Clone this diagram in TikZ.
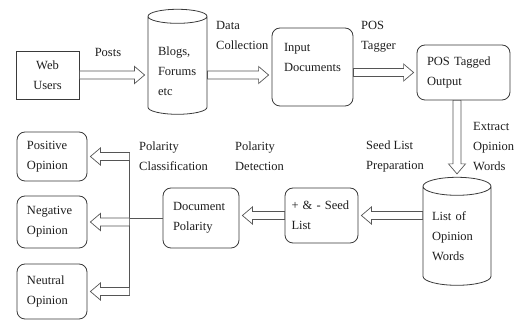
\documentclass[tikz,border=0pt]{standalone}
\usepackage{fontspec}
\setmainfont{Liberation Serif}
\usetikzlibrary{shapes.geometric, positioning, calc}
\definecolor{ink}{HTML}{1E1E1E}
\definecolor{edge}{HTML}{3A3A3A}
\definecolor{arrowline}{HTML}{555555}

% hollow block arrow: from, to, direction x, direction y
\newcommand{\flowarrow}[4]{%
  \draw[blockarr] ($(#1)+({-4*(#4)},{4*(#3)})$)
    -- ($(#2)+({-13*(#3)-4*(#4)},{-13*(#4)+4*(#3)})$)
    -- ($(#2)+({-13*(#3)-8.5*(#4)},{-13*(#4)+8.5*(#3)})$)
    -- ($(#2)+({-3*(#3)},{-3*(#4)})$)
    -- ($(#2)+({-13*(#3)+8.5*(#4)},{-13*(#4)-8.5*(#3)})$)
    -- ($(#2)+({-13*(#3)+4*(#4)},{-13*(#4)-4*(#3)})$)
    -- ($(#1)+({4*(#4)},{-4*(#3)})$) -- cycle;}

\begin{document}
\begin{tikzpicture}[x=1pt, y=-1pt,
  txt/.style={font=\fontsize{12.5}{20}\selectfont, text=ink, align=left, inner sep=0pt},
  box/.style={txt, draw=edge, line width=0.8pt, rounded corners=8pt, fill=white},
  store/.style={txt, draw=edge, line width=0.8pt, cylinder, shape border rotate=90, aspect=0.36},
  blockarr/.style={draw=arrowline, line width=0.7pt, fill=white, line join=miter},
  wire/.style={draw=arrowline, line width=0.7pt}
]
\useasboundingbox (0,0) rectangle (523,320);

% top row
\node[box, rounded corners=0pt, align=center, text width=43pt, minimum width=63pt, minimum height=48pt] (web) at (47.5,75) {Web\\Users};
\node[store, text width=39pt, minimum width=59pt, minimum height=105pt] (blogs) at (177.5,65.5) {\mbox{}\\Blogs,\\Forums\\etc};
\node[box, text width=57pt, minimum width=81pt, minimum height=78pt] (input) at (312.5,67) {Input\\Documents\\\mbox{}};
\node[box, text width=73pt, minimum width=93pt, minimum height=55pt] (pos) at (463.5,72.5) {POS Tagged\\Output};

% middle row
\node[store, text width=50pt, minimum width=68pt, minimum height=108pt] (list) at (457,236) {List of\\Opinion\\Words};
\node[box, text width=60pt, minimum width=73pt, minimum height=55pt] (seed) at (321.5,215.5) {+ \& - Seed\\List};
\node[box, text width=56pt, minimum width=76pt, minimum height=60pt] (doc) at (201,218) {Document\\Polarity};

% results
\node[box, text width=50pt, minimum width=70pt, minimum height=49pt] (posop) at (52,156.5) {Positive\\Opinion};
\node[box, text width=50pt, minimum width=70pt, minimum height=52pt] (negop) at (52,222) {Negative\\Opinion};
\node[box, text width=50pt, minimum width=70pt, minimum height=55pt] (neuop) at (52,291.5) {Neutral\\Opinion};

% arrow labels
\node[txt] (posts) at (108,52) {Posts};
\node[txt, anchor=west] (collect) at (216,35) {Data\\Collection};
\node[txt, anchor=west] (tagger) at (361,37) {POS\\Tagger};
\node[txt, anchor=west] (extract) at (473,147) {Extract\\Opinion\\Words};
\node[txt, anchor=west] (prep) at (366,156) {Seed List\\Preparation};
\node[txt, anchor=west] (detect) at (235,156) {Polarity\\Detection};
\node[txt, anchor=west] (classify) at (139,156) {Polarity\\Classification};

\coordinate (split) at ($(doc.west)+(-33,0)$);
\draw[wire] (doc.west) -- (split);
\draw[wire] ($(split |- posop.east)+(0,-4)$) -- ($(split |- neuop.east)+(0,4)$);

\flowarrow{web.east}{web.east -| blogs.west}{1}{0}
\flowarrow{blogs.east |- web.east}{web.east -| input.west}{1}{0}
\flowarrow{input.east |- pos.west}{pos.west}{1}{0}
\flowarrow{pos.south -| list.north}{list.north}{0}{1}
\flowarrow{seed.east -| list.west}{seed.east}{-1}{0}
\flowarrow{seed.west}{doc.east |- seed.west}{-1}{0}
\foreach \op in {posop,negop,neuop}{
  \flowarrow{split |- \op.east}{\op.east}{-1}{0}
}
\end{tikzpicture}
\end{document}
